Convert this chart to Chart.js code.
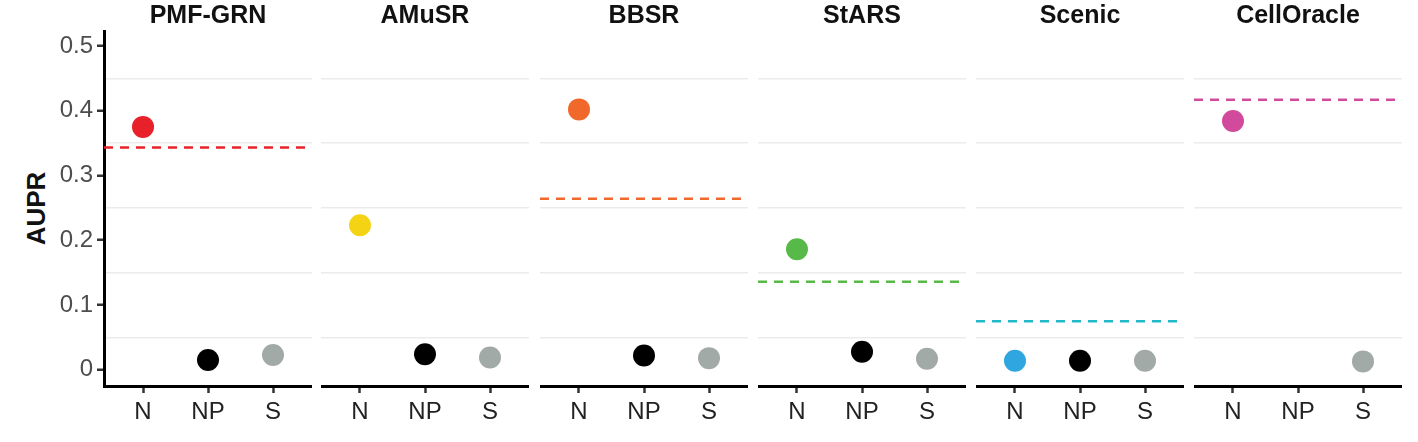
<!DOCTYPE html>
<html>
<head>
<meta charset="utf-8">
<script src="https://cdn.jsdelivr.net/npm/chart.js@4"></script>
<style>
  body { margin: 0; background: #fff; width: 1418px; height: 442px; position: relative; overflow: hidden; font-family: "Liberation Sans", Arial, sans-serif; }
  .wrap { position: absolute; top: 0; height: 442px; }
  .title { position: absolute; top: 0px; font-weight: bold; font-size: 25px; color: #111; text-align: center; }
  #ylab { position: absolute; left: -4px; top: 193px; transform: rotate(-90deg); transform-origin: center; font-weight: bold; font-size: 26px; color: #111; width: 80px; text-align: center; }
</style>
</head>
<body>
<div id="ylab">AUPR</div>
<script>
const methods = ['PMF-GRN', 'AMuSR', 'BBSR', 'StARS', 'Scenic', 'CellOracle'];
const categories = ['N', 'NP', 'S'];
const valN  = [0.375, 0.223, 0.402, 0.186, 0.014, 0.384];
const valNP = [0.015, 0.024, 0.022, 0.028, 0.014, null];
const valS  = [0.023, 0.019, 0.018, 0.017, 0.014, 0.013];
const baseline = [0.343, null, 0.264, 0.136, 0.075, 0.417];
const nColors = ['#e8202a', '#f3d313', '#f1692a', '#57b947', '#2fa6e0', '#d24a9c'];
const lineColors = ['#e8202a', null, '#f1692a', '#57b947', '#22b8cc', '#d24a9c'];

const panelLeft = [104, 321, 540, 758, 976, 1194];
const panelWidth = 208;

const isMajor = v => Math.abs(Math.round(v * 10) - v * 10) < 1e-6;
const isMinor = v => !isMajor(v);

methods.forEach((m, i) => {
  const first = i === 0;
  const left = first ? 0 : panelLeft[i];
  const width = first ? panelLeft[0] + panelWidth : panelWidth;
  const wrap = document.createElement('div');
  wrap.className = 'wrap';
  wrap.style.left = left + 'px';
  wrap.style.width = width + 'px';
  const cv = document.createElement('canvas');
  wrap.appendChild(cv);
  document.body.appendChild(wrap);

  const t = document.createElement('div');
  t.className = 'title';
  t.textContent = m;
  t.style.left = panelLeft[i] + 'px';
  t.style.width = panelWidth + 'px';
  document.body.appendChild(t);

  const pts = [valN[i], valNP[i], valS[i]];
  const cols = [nColors[i], '#000000', '#a2aaa8'];
  const datasets = [];
  if (baseline[i] !== null) {
    datasets.push({
      type: 'line',
      data: [{ x: 0.4, y: baseline[i] }, { x: 3.6, y: baseline[i] }],
      borderColor: lineColors[i],
      borderWidth: 2.5,
      borderDash: [9, 7],
      pointRadius: 0,
    });
  }
  datasets.push({
    type: 'scatter',
    data: pts.map((v, k) => (v === null ? null : { x: k + 1, y: v })).filter(p => p),
    backgroundColor: cols.filter((c, k) => pts[k] !== null),
    borderWidth: 0,
    pointRadius: 11,
  });

  new Chart(cv, {
    data: { datasets },
    options: {
      responsive: true,
      maintainAspectRatio: false,
      animation: false,
      layout: { autoPadding: false, padding: { top: 31, left: 0, right: 0, bottom: 0 } },
      plugins: { legend: { display: false }, tooltip: { enabled: false } },
      scales: {
        x: {
          type: 'linear', min: 0.4, max: 3.6,
          afterBuildTicks: s => { s.ticks = [1, 2, 3].map(v => ({ value: v })); },
          afterFit: s => { s.height = 56; },
          ticks: {
            callback: v => categories[v - 1],
            color: '#222', font: { size: 24, family: 'Liberation Sans' }, padding: 5,
          },
          grid: { drawOnChartArea: false, tickColor: '#333', tickLength: 7, tickWidth: 2.5 },
          border: { color: '#000', width: 3 },
        },
        y: {
          min: -0.025, max: 0.523,
          afterBuildTicks: s => {
            const arr = [];
            for (let k = 0; k <= 10; k++) arr.push({ value: k * 0.05 });
            s.ticks = arr;
          },
          afterFit: s => { s.width = first ? 104 : 0; },
          ticks: {
            display: first,
            callback: v => (isMajor(v) ? (v === 0 ? '0' : v.toFixed(1)) : ''),
            color: '#4d4d4d', font: { size: 24, family: 'Liberation Sans' }, padding: 4,
          },
          grid: {
            drawTicks: first,
            tickLength: 7,
            tickWidth: 2.5,
            tickColor: c => (isMajor(c.tick.value) ? '#333' : 'rgba(0,0,0,0)'),
            color: c => (isMinor(c.tick.value) ? '#ebebeb' : 'rgba(0,0,0,0)'),
            lineWidth: 1.5,
          },
          border: { display: first, color: '#000', width: 3 },
        },
      },
    },
  });
});
</script>
</body>
</html>
